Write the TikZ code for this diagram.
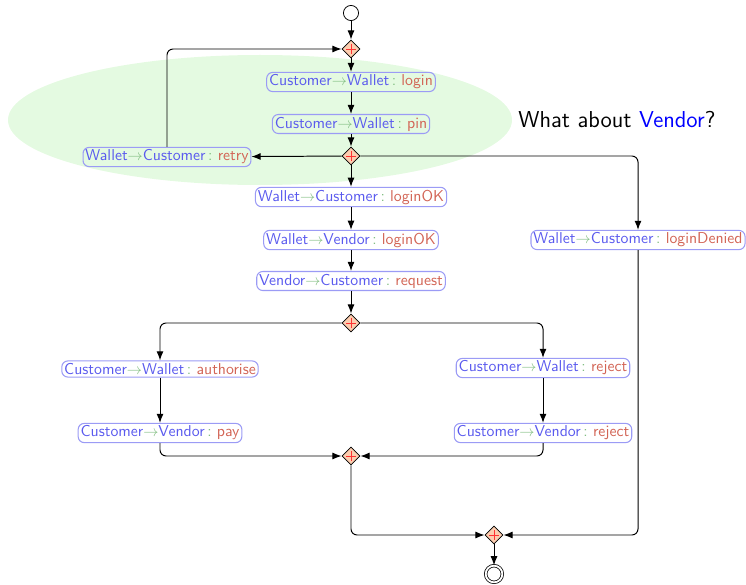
\documentclass[tikz,border=0pt]{standalone}
\usetikzlibrary{arrows.meta,shapes.geometric}
\definecolor{rolec}{RGB}{90,90,238}
\definecolor{arrc}{RGB}{130,190,130}
\definecolor{msgc}{RGB}{210,100,85}
\definecolor{boxc}{RGB}{155,155,245}
\definecolor{gwfill}{RGB}{252,205,175}
\definecolor{ellc}{RGB}{228,250,225}
\newcommand{\msg}[3]{\textcolor{rolec}{#1}\textcolor{arrc}{$\rightarrow$}\textcolor{rolec}{#2}\,\textcolor{arrc}{:}\ \textcolor{msgc}{#3}}
\tikzset{
  msgbox/.style={draw=boxc, line width=0.7pt, rounded corners=4pt, inner sep=1.6pt, font=\fontsize{10.4}{12.5}\sffamily},
  gw/.style={diamond, draw=black, fill=gwfill, line width=0.5pt, minimum size=12pt, inner sep=0pt,
    path picture={\draw[red!80, line width=0.5pt] ([xshift=-3pt]path picture bounding box.center) -- ([xshift=3pt]path picture bounding box.center);
                  \draw[red!80, line width=0.5pt] ([yshift=-3pt]path picture bounding box.center) -- ([yshift=3pt]path picture bounding box.center);}},
  flow/.style={-{Latex[length=6pt,width=4.6pt]}, line width=0.65pt, rounded corners=4pt},
}
\begin{document}
\begin{tikzpicture}[x=0.66pt,y=-0.66pt]
\useasboundingbox (0,0) rectangle (746,584);
\fill[ellc] (260,120) ellipse [x radius=252, y radius=65];
\node[font=\fontsize{15.2}{18}\sffamily, anchor=west] (q) at (513,120) {What about \textcolor{blue}{Vendor}?};

\node[circle, draw, line width=0.5pt, minimum size=10pt, inner sep=0pt] (start) at (351,13) {};
\node[gw] (g1) at (351,49) {};
\node[msgbox] (login) at (351,82) {\msg{Customer}{Wallet}{login}};
\node[msgbox] (pin) at (351,124) {\msg{Customer}{Wallet}{pin}};
\node[gw] (g2) at (351,156) {};
\node[msgbox] (retry) at (167,157) {\msg{Wallet}{Customer}{retry}};
\node[msgbox] (lok) at (351,197) {\msg{Wallet}{Customer}{loginOK}};
\node[msgbox] (wvok) at (351,240) {\msg{Wallet}{Vendor}{loginOK}};
\node[msgbox] (req) at (351,281) {\msg{Vendor}{Customer}{request}};
\node[msgbox] (denied) at (638,240) {\msg{Wallet}{Customer}{loginDenied}};
\node[gw] (g3) at (351,323) {};
\node[msgbox] (auth) at (160,369) {\msg{Customer}{Wallet}{authorise}};
\node[msgbox] (rej1) at (543,368) {\msg{Customer}{Wallet}{reject}};
\node[msgbox] (pay) at (160,433) {\msg{Customer}{Vendor}{pay}};
\node[msgbox] (rej2) at (543,433) {\msg{Customer}{Vendor}{reject}};
\node[gw] (g4) at (351,456) {};
\node[gw] (g5) at (494,535) {};
\node[circle, draw, line width=0.5pt, minimum size=11pt, inner sep=0pt, double, double distance=1.2pt] (end) at (494,574) {};

\draw[flow] (start) -- (g1);
\draw[flow] (g1) -- (login);
\draw[flow] (login) -- (pin);
\draw[flow] (pin) -- (g2);
\draw[flow] (g2) -- (retry);
\draw[flow] (retry.north) |- (g1);
\draw[flow] (g2) -| (denied);
\draw[flow] (g2) -- (lok);
\draw[flow] (lok) -- (wvok);
\draw[flow] (wvok) -- (req);
\draw[flow] (req) -- (g3);
\draw[flow] (g3) -| (auth);
\draw[flow] (g3) -| (rej1);
\draw[flow] (auth) -- (pay);
\draw[flow] (rej1) -- (rej2);
\draw[flow] (pay) |- (g4);
\draw[flow] (rej2) |- (g4);
\draw[flow] (g4) |- (g5);
\draw[flow] (denied) |- (g5);
\draw[flow] (g5) -- (end);
\end{tikzpicture}
\end{document}
